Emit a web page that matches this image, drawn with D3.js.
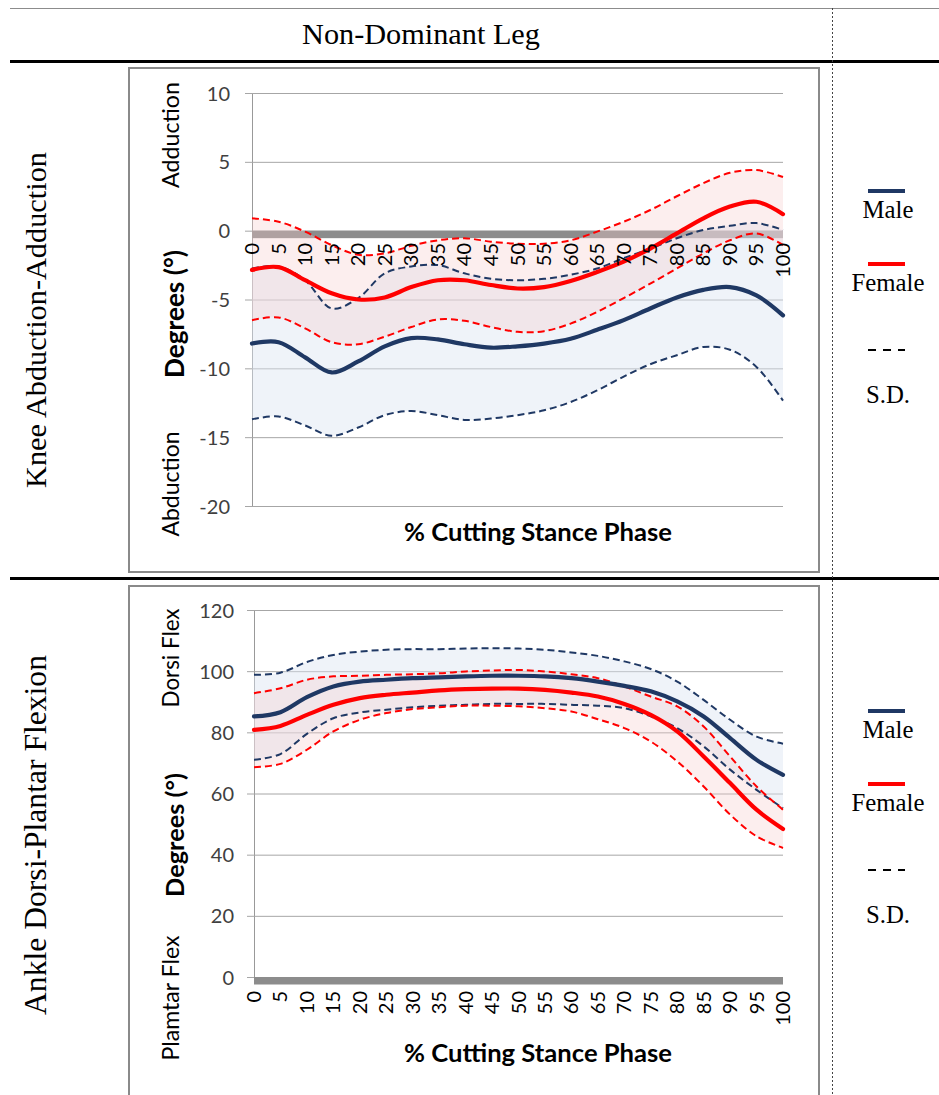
<!DOCTYPE html>
<html><head><meta charset="utf-8">
<script src="https://cdn.jsdelivr.net/npm/d3@7"></script>
<style>body{margin:0;background:#fff}svg{display:block}</style>
</head><body>
<script>
// ---------- DATA ----------
const pct = [0,5,10,15,20,25,30,35,40,45,50,55,60,65,70,75,80,85,90,95,100];

// Knee abduction-adduction (degrees)
const kneeMaleMean   = [-8.2,-8.1,-9.2,-10.3,-9.5,-8.4,-7.8,-7.9,-8.25,-8.5,-8.4,-8.2,-7.85,-7.2,-6.5,-5.65,-4.85,-4.3,-4.1,-4.7,-6.15];
const kneeMaleUpper  = [-2.75,-2.6,-3.6,-5.65,-4.9,-3.1,-2.6,-2.5,-3.1,-3.5,-3.6,-3.5,-3.2,-2.75,-2.0,-1.3,-0.55,0.05,0.35,0.55,0.05];
const kneeMaleLower  = [-13.7,-13.5,-14.15,-14.9,-14.3,-13.4,-13.1,-13.4,-13.75,-13.65,-13.4,-13.05,-12.45,-11.6,-10.6,-9.7,-9.05,-8.45,-8.65,-9.9,-12.35];
const kneeFemaleMean = [-2.85,-2.65,-3.6,-4.55,-5.0,-4.85,-4.1,-3.6,-3.6,-3.95,-4.2,-4.1,-3.65,-3.0,-2.25,-1.3,-0.2,0.9,1.75,2.1,1.2];
const kneeFemaleUpper= [0.9,0.65,-0.07,-1.05,-1.75,-1.65,-1.1,-0.7,-0.55,-0.8,-0.95,-0.95,-0.7,-0.07,0.65,1.5,2.5,3.45,4.2,4.4,3.9];
const kneeFemaleLower= [-6.5,-6.3,-7.1,-8.1,-8.25,-7.7,-7.0,-6.45,-6.55,-7.0,-7.35,-7.3,-6.75,-5.9,-4.9,-3.85,-2.75,-1.65,-0.7,-0.2,-1.05];
const kneeTicks = [-20,-15,-10,-5,0,5,10];

// Ankle dorsi-plantar flexion (degrees)
const ankleMaleMean   = [85.2,86.6,91.5,95.0,96.6,97.2,97.7,98.0,98.3,98.5,98.5,98.3,97.7,96.6,95.2,93.4,90.1,85.2,78.1,71.0,66.1];
const ankleMaleUpper  = [98.8,99.5,103.0,105.3,106.4,107.0,107.2,107.2,107.4,107.5,107.4,107.0,106.1,105.0,103.2,100.7,96.6,90.6,84.1,78.6,76.3];
const ankleMaleLower  = [71.0,72.9,79.5,84.6,86.5,87.4,88.2,88.7,89.0,89.3,89.3,89.3,89.0,88.7,87.9,85.2,81.4,75.4,67.8,61.2,55.2];
const ankleFemaleMean = [80.8,82.1,85.7,89.0,91.2,92.3,93.0,93.7,94.1,94.3,94.3,93.9,93.0,91.7,89.3,85.7,80.3,72.1,63.4,54.7,48.4];
const ankleFemaleUpper= [92.8,94.4,97.2,98.3,98.5,98.8,99.0,99.3,99.9,100.2,100.4,99.9,99.0,97.7,95.0,91.7,88.5,81.9,72.1,62.3,54.7];
const ankleFemaleLower= [68.6,69.7,74.3,80.3,84.1,86.3,87.6,88.2,88.7,88.7,88.5,87.9,86.8,84.3,81.4,77.0,70.5,62.3,53.1,46.0,42.2];
const ankleTicks = [0,20,40,60,80,100,120];

const headerText = "Non-Dominant Leg";
const rowTitles = ["Knee Abduction-Adduction","Ankle Dorsi-Plantar Flexion"];
const legendLabels = ["Male","Female","S.D."];
const xTitle = "% Cutting Stance Phase";
const yTitle = "Degrees (°)";

// ---------- STYLE ----------
const NAVY = "#1f3864", RED = "#ff0000";
const SANS = "Lato, 'Open Sans', sans-serif";
const SERIF = "'Liberation Serif', 'DejaVu Serif', serif";

const svg = d3.select("body").append("svg").attr("width",939).attr("height",1095);
svg.append("rect").attr("width",939).attr("height",1095).attr("fill","#fff");

function fit(t, w){
  const base = 20; t.attr("font-size", base);
  const len = t.node().getComputedTextLength();
  t.attr("font-size", base * w / len);
  return t;
}

// Table frame
svg.append("line").attr("x1",10).attr("x2",939).attr("y1",8.5).attr("y2",8.5).attr("stroke","#8c8c8c").attr("stroke-width",1);
svg.append("line").attr("x1",10).attr("x2",939).attr("y1",61.5).attr("y2",61.5).attr("stroke","#000").attr("stroke-width",3);
svg.append("line").attr("x1",10).attr("x2",939).attr("y1",578.5).attr("y2",578.5).attr("stroke","#000").attr("stroke-width",3);
svg.append("line").attr("x1",832.5).attr("x2",832.5).attr("y1",8).attr("y2",1095).attr("stroke","#444").attr("stroke-width",1).attr("stroke-dasharray","2,2");

fit(svg.append("text").attr("x",421).attr("y",44).attr("text-anchor","middle")
  .attr("font-family",SERIF).attr("fill","#000").text(headerText), 238);

const panels = [
  {title:rowTitles[0], titleCy:320, titleLen:336, box:[128,67,690,504], x0:252, x1:783,
   yDom:[-20,10], yRng:[506,93], ticks:kneeTicks, tickLabelX:230, xLabTop:243, xTitleY:541,
   topLab:"Adduction", topCy:135, topLen:106, botLab:"Abduction", botCy:484, botLen:105, degCy:314, degLen:128,
   legendY:191,
   mm:kneeMaleMean, mu:kneeMaleUpper, ml:kneeMaleLower, fm:kneeFemaleMean, fu:kneeFemaleUpper, fl:kneeFemaleLower},
  {title:rowTitles[1], titleCy:835, titleLen:360, box:[128,585,690,530], x0:254, x1:783,
   yDom:[0,120], yRng:[977,610], ticks:ankleTicks, tickLabelX:234, xLabTop:991, xTitleY:1062,
   topLab:"Dorsi Flex", topCy:658, topLen:99, botLab:"Plamtar Flex", botCy:998, botLen:125, degCy:835, degLen:124,
   legendY:711,
   mm:ankleMaleMean, mu:ankleMaleUpper, ml:ankleMaleLower, fm:ankleFemaleMean, fu:ankleFemaleUpper, fl:ankleFemaleLower}
];

panels.forEach(p => {
  const g = svg.append("g");
  // row title
  fit(g.append("text").attr("transform",`translate(46,${p.titleCy}) rotate(-90)`).attr("text-anchor","middle")
    .attr("font-family",SERIF).attr("fill","#000").text(p.title), p.titleLen);
  // chart box
  g.append("rect").attr("x",p.box[0]+1).attr("y",p.box[1]+1).attr("width",p.box[2]).attr("height",p.box[3])
    .attr("fill","#fff").attr("stroke","#8a8a8a").attr("stroke-width",2);

  const x = d3.scaleLinear().domain([0,100]).range([p.x0,p.x1]);
  const y = d3.scaleLinear().domain(p.yDom).range(p.yRng);

  // gridlines + y axis
  const ya = d3.axisLeft(y).tickValues(p.ticks).tickSize(-(p.x1-p.x0)).tickSizeOuter(0).tickFormat(d => d);
  const yg = g.append("g").attr("transform",`translate(${p.x0},0)`).call(ya);
  yg.select(".domain").attr("stroke","#999");
  yg.selectAll(".tick line").attr("stroke","#a6a6a6").attr("x1",-7);
  yg.selectAll(".tick text").attr("x",p.tickLabelX - p.x0).attr("font-family",SANS).attr("font-size",20)
    .attr("fill","#404040").attr("dy","0.35em");

  // zero band (x axis line)
  g.append("rect").attr("x",p.x0).attr("y",y(0)).attr("width",p.x1-p.x0).attr("height",7.5).attr("fill","#8c8c8c");

  const curve = d3.curveCatmullRom.alpha(0.5);
  const area = (u,l) => d3.area().x((d,i)=>x(pct[i])).y0((d,i)=>y(l[i])).y1((d,i)=>y(u[i])).curve(curve)(pct);
  const line = v => d3.line().x((d,i)=>x(pct[i])).y((d,i)=>y(v[i])).curve(curve)(pct);

  g.append("path").attr("d",area(p.mu,p.ml)).attr("fill","#dbe5f1").attr("fill-opacity",0.45);
  g.append("path").attr("d",area(p.fu,p.fl)).attr("fill","#f6caca").attr("fill-opacity",0.33);

  [[p.mu,NAVY],[p.ml,NAVY],[p.fu,RED],[p.fl,RED]].forEach(([v,c]) =>
    g.append("path").attr("d",line(v)).attr("fill","none").attr("stroke",c).attr("stroke-width",2)
      .attr("stroke-dasharray","7,4"));
  g.append("path").attr("d",line(p.mm)).attr("fill","none").attr("stroke",NAVY).attr("stroke-width",4.2).attr("stroke-linecap","round");
  g.append("path").attr("d",line(p.fm)).attr("fill","none").attr("stroke",RED).attr("stroke-width",4.2).attr("stroke-linecap","round");

  // x tick labels
  g.selectAll(".xl").data(pct).join("text")
    .attr("transform",d=>`translate(${x(d)},${p.xLabTop}) rotate(-90)`)
    .attr("text-anchor","end").attr("dy","0.35em")
    .attr("font-family",SANS).attr("font-size",20).attr("fill","#000").text(d=>d);

  // titles
  fit(g.append("text").attr("x",538).attr("y",p.xTitleY).attr("text-anchor","middle")
    .attr("font-family",SANS).attr("font-weight","bold").attr("fill","#000").text(xTitle), 268);
  fit(g.append("text").attr("transform",`translate(184,${p.degCy}) rotate(-90)`).attr("text-anchor","middle")
    .attr("font-family",SANS).attr("font-weight","bold").attr("fill","#000").text(yTitle), p.degLen);
  fit(g.append("text").attr("transform",`translate(179,${p.topCy}) rotate(-90)`).attr("text-anchor","middle")
    .attr("font-family",SANS).attr("fill","#000").text(p.topLab), p.topLen);
  fit(g.append("text").attr("transform",`translate(179,${p.botCy}) rotate(-90)`).attr("text-anchor","middle")
    .attr("font-family",SANS).attr("fill","#000").text(p.botLab), p.botLen);

  // legend
  const ly = p.legendY;
  const fem = fit(g.append("text").attr("x",888).attr("y",ly+100).attr("text-anchor","middle").attr("font-family",SERIF).text(legendLabels[1]), 73);
  const lfs = fem.attr("font-size");
  g.append("line").attr("x1",868).attr("x2",905).attr("y1",ly).attr("y2",ly).attr("stroke",NAVY).attr("stroke-width",4);
  g.append("text").attr("x",888).attr("y",ly+27).attr("text-anchor","middle").attr("font-family",SERIF).attr("font-size",lfs).text(legendLabels[0]);
  g.append("line").attr("x1",868).attr("x2",905).attr("y1",ly+73).attr("y2",ly+73).attr("stroke",RED).attr("stroke-width",4);
  g.append("line").attr("x1",868).attr("x2",905).attr("y1",ly+159).attr("y2",ly+159).attr("stroke","#000").attr("stroke-width",2).attr("stroke-dasharray","8,7");
  g.append("text").attr("x",888).attr("y",ly+212).attr("text-anchor","middle").attr("font-family",SERIF).attr("font-size",lfs).text(legendLabels[2]);
});
</script>
</body></html>
